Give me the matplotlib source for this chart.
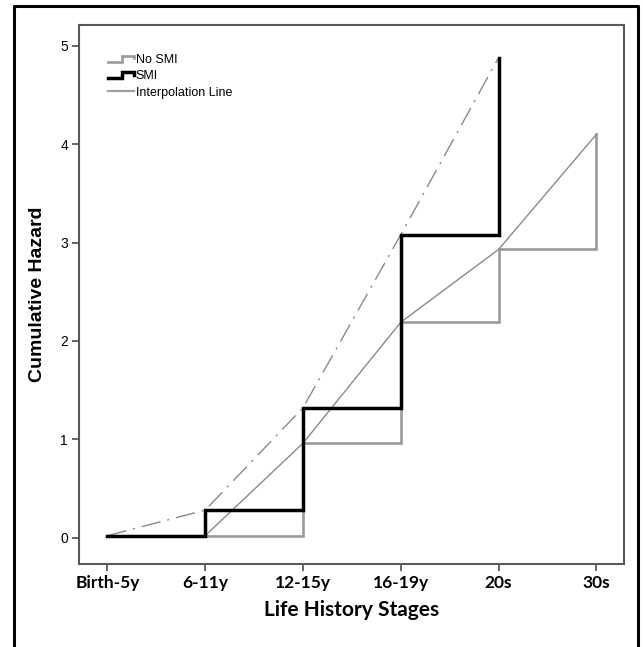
"""Cumulative hazard by life history stage, No SMI vs SMI, step + interpolation."""
import matplotlib
matplotlib.use("Agg")
import matplotlib.pyplot as plt
from matplotlib.lines import Line2D
from matplotlib.legend_handler import HandlerBase

STAGES = ["Birth-5y", "6-11y", "12-15y", "16-19y", "20s", "30s"]
NO_SMI = [0.02, 0.02, 0.96, 2.19, 2.93, 4.10]
SMI = [0.02, 0.28, 1.32, 3.08, 4.88]

GRAY_STEP = "#9a9a9a"
GRAY_LINE = "#8a8a8a"
SPINE = "#5a5a5a"


class StepHandler(HandlerBase):
    """Legend icon shaped like a single step."""
    def create_artists(self, legend, orig, xd, yd, w, h, fontsize, trans):
        x0, x1 = -xd, -xd + w
        xm = x0 + w * 0.55
        lo, hi = -yd + h * 0.15, -yd + h * 0.85
        ln = Line2D([x0, xm, xm, x1, x1], [lo, lo, hi, hi, lo + (hi - lo) * 0.55],
                    color=orig.get_color(), lw=orig.get_linewidth(),
                    solid_joinstyle="miter")
        ln.set_transform(trans)
        return [ln]


fig = plt.figure(figsize=(6.43, 6.47), dpi=100)
ax = fig.add_axes([0.123, 0.128, 0.847, 0.833])

x_no = list(range(len(NO_SMI)))
x_smi = list(range(len(SMI)))

h_no, = ax.step(x_no, NO_SMI, where="post", color=GRAY_STEP, lw=1.9,
                solid_joinstyle="miter", zorder=2, label="No SMI")
ax.plot(x_no, NO_SMI, color=GRAY_LINE, lw=1.0, zorder=3)
ax.plot(x_smi, SMI, color=GRAY_LINE, lw=1.0, ls=(0, (14, 5, 1.5, 5)), zorder=3)
h_smi, = ax.step(x_smi, SMI, where="post", color="black", lw=2.5,
                 solid_joinstyle="miter", zorder=4, label="SMI")
h_int = Line2D([], [], color="#a0a0a0", lw=1.6, label="Interpolation Line")

leg = ax.legend([h_no, h_smi, h_int], ["No SMI", "SMI", "Interpolation Line"],
                loc="upper left", bbox_to_anchor=(0.044, 0.956),
                frameon=False, handlelength=2.1, handletextpad=0.1,
                labelspacing=0.35, borderaxespad=0,
                prop={"family": "Liberation Sans", "size": 9},
                handler_map={h_no: StepHandler(), h_smi: StepHandler()})

ax.set_xlim(-0.29, 5.28)
ax.set_ylim(-0.27, 5.21)
ax.set_xticks(x_no)
ax.set_xticklabels(STAGES, fontsize=12.5, fontweight="bold", family="Lato")
ax.set_yticks([0, 1, 2, 3, 4, 5])
ax.set_yticklabels(["0", "1", "2", "3", "4", "5"], fontsize=10,
                   family="Liberation Sans")
ax.tick_params(axis="both", direction="out", length=5, width=1.3,
               color=SPINE, pad=3)
for s in ax.spines.values():
    s.set_color(SPINE)
    s.set_linewidth(1.5)

ax.set_xlabel("Life History Stages", fontsize=15, fontweight="bold",
              family="Lato", labelpad=6)
ax.set_ylabel("Cumulative Hazard", fontsize=14, fontweight="bold",
              family="Liberation Sans", labelpad=10)

# outer frame (left, top, right only)
fig.add_artist(Line2D([0.022, 0.022, 0.992, 0.992], [0.0, 0.991, 0.991, 0.0],
                      transform=fig.transFigure, color="black", lw=2.2))

fig.savefig("out.png", dpi=100)
